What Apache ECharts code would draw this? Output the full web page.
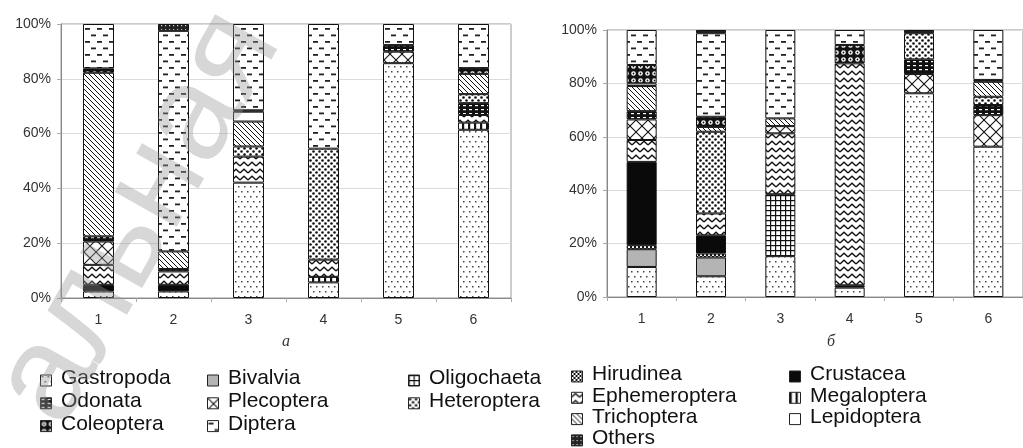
<!DOCTYPE html>
<html><head><meta charset="utf-8">
<script src="https://cdn.jsdelivr.net/npm/echarts@6/dist/echarts.min.js"></script>
<style>html,body{margin:0;padding:0;background:#fff}#c{width:1023px;height:448px}</style>
</head><body><div id="c"></div>
<script>
// ---- data ----
const categories = ['1', '2', '3', '4', '5', '6'];
const yTicks = [0, 20, 40, 60, 80, 100];
const panelTitles = ['а', 'б'];

// panel a (percent of each column)
const gastropodaA    = [2.4, 2.4, 42.1, 5.7, 85.7, 61.4];
const bivalviaA      = [0, 0, 0, 0, 0, 0];
const oligochaetaA   = [0, 0, 0, 0, 0, 0];
const hirudineaA     = [0, 0, 0, 0, 0, 0];
const crustaceaA     = [2.4, 2.4, 0, 0, 0, 0];
const megalopteraA   = [0, 0, 0, 2.0, 0, 2.6];
const ephemeropteraA = [7.3, 4.9, 9.5, 6.3, 0, 2.8];
const plecopteraA    = [8.5, 0, 0, 0, 4.2, 0];
const odonataA       = [1.9, 0.9, 0, 0, 2.4, 4.3];
const heteropteraA   = [0, 0, 3.7, 40.5, 0, 3.3];
const trichopteraA   = [59.7, 6.4, 9.1, 0, 0, 7.4];
const lepidopteraA   = [0, 0, 3.6, 0, 0, 0];
const coleopteraA    = [1.6, 0, 0.5, 0, 0, 2.1];
const dipteraA       = [16.2, 80.5, 31.5, 45.5, 7.7, 16.1];
const othersA        = [0, 2.5, 0, 0, 0, 0];

// panel б
const gastropodaB    = [11.25, 7.75, 15.3, 3.5, 76.3, 56.3];
const bivalviaB      = [6.65, 7.05, 0, 0, 0, 0];
const oligochaetaB   = [0, 0, 23.2, 0, 0, 0];
const hirudineaB     = [1.5, 1.5, 0, 0, 0, 0];
const crustaceaB     = [31.2, 6.8, 0, 0.9, 0, 0];
const megalopteraB   = [0, 0, 0, 0, 0, 0];
const ephemeropteraB = [8.2, 8.2, 22.8, 83.1, 0, 0];
const plecopteraB    = [7.7, 0, 2.7, 0, 7.2, 11.8];
const odonataB       = [3.1, 0, 0, 0, 5.5, 3.8];
const heteropteraB   = [0, 30.6, 0, 0, 9.8, 3.1];
const trichopteraB   = [9.4, 1.8, 2.9, 0, 0, 5.6];
const lepidopteraB   = [1.0, 0, 0, 0, 0, 0];
const coleopteraB    = [6.9, 3.8, 0, 6.9, 0, 0.7];
const dipteraB       = [13.1, 31.3, 33.1, 5.6, 0, 18.7];
const othersB        = [0, 1.2, 0, 0, 1.2, 0];

// stacking order, bottom to top
const stackOrder = [
  ['Gastropoda', gastropodaA, gastropodaB],
  ['Bivalvia', bivalviaA, bivalviaB],
  ['Oligochaeta', oligochaetaA, oligochaetaB],
  ['Hirudinea', hirudineaA, hirudineaB],
  ['Crustacea', crustaceaA, crustaceaB],
  ['Megaloptera', megalopteraA, megalopteraB],
  ['Ephemeroptera', ephemeropteraA, ephemeropteraB],
  ['Plecoptera', plecopteraA, plecopteraB],
  ['Odonata', odonataA, odonataB],
  ['Heteroptera', heteropteraA, heteropteraB],
  ['Trichoptera', trichopteraA, trichopteraB],
  ['Lepidoptera', lepidopteraA, lepidopteraB],
  ['Coleoptera', coleopteraA, coleopteraB],
  ['Diptera', dipteraA, dipteraB],
  ['Others', othersA, othersB]
];

// legend blocks (row-major)
const legendLeft = ['Gastropoda', 'Bivalvia', 'Oligochaeta', 'Odonata', 'Plecoptera', 'Heteroptera', 'Coleoptera', 'Diptera'];
const legendRight = ['Hirudinea', 'Crustacea', 'Ephemeroptera', 'Megaloptera', 'Trichoptera', 'Lepidoptera', 'Others'];

// ---- patterns ----
function tile(w, h, bg, draw) {
  const c = document.createElement('canvas');
  c.width = w; c.height = h;
  const g = c.getContext('2d');
  g.fillStyle = bg; g.fillRect(0, 0, w, h);
  g.fillStyle = '#111'; g.strokeStyle = '#111';
  draw(g);
  return { image: c, repeat: 'repeat' };
}
function dot(g, x, y, r) { g.beginPath(); g.arc(x, y, r, 0, Math.PI * 2); g.fill(); }
function line(g, pts, w) { g.lineWidth = w; g.beginPath(); g.moveTo(pts[0], pts[1]); for (let i = 2; i < pts.length; i += 2) g.lineTo(pts[i], pts[i + 1]); g.stroke(); }

const patterns = {
  Gastropoda: tile(6, 10, '#fff', g => { g.fillStyle = '#444'; g.fillRect(1, 1, 1.5, 1.5); g.fillRect(4, 6, 1.5, 1.5); }),
  Bivalvia: '#b4b4b4',
  Oligochaeta: tile(5, 5, '#fff', g => { g.fillRect(0, 0, 5, 1.2); g.fillRect(0, 0, 1.2, 5); }),
  Hirudinea: tile(4, 4, '#fff', g => { g.fillRect(0, 0, 2, 2); g.fillRect(2, 2, 2, 2); }),
  Crustacea: '#0a0a0a',
  Megaloptera: tile(6, 2, '#fff', g => { g.fillRect(0, 0, 2.2, 2); }),
  Ephemeroptera: tile(8, 7, '#fff', g => { line(g, [0, 5, 4, 1.2, 8, 5], 1.3); }),
  Plecoptera: tile(12, 12, '#fff', g => { line(g, [0, 0, 12, 12], 1.1); line(g, [12, 0, 0, 12], 1.1); }),
  Odonata: tile(6, 4, '#111', g => { g.fillStyle = '#fff'; g.fillRect(1, 1, 3, 1.2); }),
  Heteroptera: tile(6, 6, '#fff', g => { dot(g, 1.5, 1.5, 1.3); dot(g, 4.5, 4.5, 1.3); }),
  Trichoptera: tile(5, 5, '#fff', g => { line(g, [-1, -1, 6, 6], 1); line(g, [-1, 4, 1, 6], 1); line(g, [4, -1, 6, 1], 1); }),
  Lepidoptera: '#ffffff',
  Coleoptera: tile(7, 7, '#111', g => { g.fillStyle = '#fff'; dot(g, 3.5, 3.5, 2.3); g.fillStyle = '#111'; dot(g, 3.5, 3.5, 0.9); }),
  Diptera: tile(12, 13, '#fff', g => { g.fillStyle = '#222'; g.fillRect(1, 2, 5, 1.8); g.fillRect(7, 8.5, 5, 1.8); }),
  Others: tile(4, 4, '#222', g => { g.fillStyle = '#ddd'; g.fillRect(1, 1, 1.2, 1.2); })
};

// ---- series ----
const series = [];
stackOrder.forEach(([name, a, b]) => {
  [[a, 0, 'A', 31], [b, 1, 'B', 30]].forEach(([vals, idx, st, bw]) => {
    series.push({
      name, type: 'bar', stack: st, xAxisIndex: idx, yAxisIndex: idx,
      barWidth: bw, silent: true,
      data: vals.map(v => (v > 0 ? v : '-')),
      itemStyle: { color: patterns[name], borderColor: '#111', borderWidth: 1 }
    });
  });
});

function xAxisCfg(i) {
  return {
    type: 'category', gridIndex: i, data: categories,
    axisLine: { lineStyle: { color: '#888', width: 1 } },
    axisTick: { show: true, length: 4, lineStyle: { color: '#aaa' } },
    axisLabel: { fontSize: 14, color: '#333', margin: 15, fontFamily: 'Liberation Sans, Arial, sans-serif' },
    splitLine: { show: false }
  };
}
function yAxisCfg(i) {
  return {
    type: 'value', gridIndex: i, min: yTicks[0], max: yTicks[yTicks.length - 1], interval: yTicks[1] - yTicks[0],
    axisLine: { show: true, lineStyle: { color: '#888' } },
    axisTick: { show: true, length: 4, lineStyle: { color: '#aaa' } },
    axisLabel: { formatter: '{value}%', fontSize: 14, color: '#333', margin: 10, fontFamily: 'Liberation Sans, Arial, sans-serif' },
    splitLine: { lineStyle: { color: '#dcdcdc' } }
  };
}

// ---- legend & texts via graphic ----
const graphic = [];
const lf = 'Liberation Sans, Arial, sans-serif';
function legendBlock(names, x0s, y0, dy, cols) {
  names.forEach((n, k) => {
    const cx = x0s[k % cols], cy = y0 + Math.floor(k / cols) * dy;
    graphic.push({ type: 'rect', left: cx, top: cy - 5.5, shape: { width: 11, height: 11 },
      style: { fill: patterns[n], stroke: '#222', lineWidth: 1 }, silent: true, z: 10 });
    graphic.push({ type: 'text', left: cx + 21, top: cy - 12,
      style: { text: n, fontSize: 21, fill: '#111', fontFamily: lf }, silent: true, z: 10 });
  });
}
legendBlock(legendLeft, [40, 207, 408], 380, 22.8, 3);
legendBlock(legendRight, [571, 789], 376, 21.3, 2);

graphic.push({ type: 'text', left: 282, top: 334, style: { text: panelTitles[0], fontSize: 16, fontStyle: 'italic', fontFamily: 'Liberation Serif, serif', fill: '#333' }, silent: true });
graphic.push({ type: 'text', left: 827, top: 334, style: { text: panelTitles[1], fontSize: 16, fontStyle: 'italic', fontFamily: 'Liberation Serif, serif', fill: '#333' }, silent: true });

// watermark
graphic.push({ type: 'text', x: 88, y: 445, rotation: 60.5 * Math.PI / 180,
  style: { text: 'альная', fontSize: 135, fontFamily: lf, fill: 'rgba(150,150,150,0.38)', textVerticalAlign: 'bottom' },
  silent: true, z: 100 });

const chart = echarts.init(document.getElementById('c'), null, { renderer: 'canvas' });
chart.setOption({
  animation: false,
  backgroundColor: '#fff',
  grid: [
    { left: 61, top: 24, width: 450, height: 274, show: true, borderColor: '#999', borderWidth: 1, backgroundColor: 'transparent' },
    { left: 607, top: 30, width: 424, height: 267, show: true, borderColor: '#999', borderWidth: 1, backgroundColor: 'transparent' }
  ],
  xAxis: [xAxisCfg(0), xAxisCfg(1)],
  yAxis: [yAxisCfg(0), yAxisCfg(1)],
  series,
  graphic
});
</script></body></html>
